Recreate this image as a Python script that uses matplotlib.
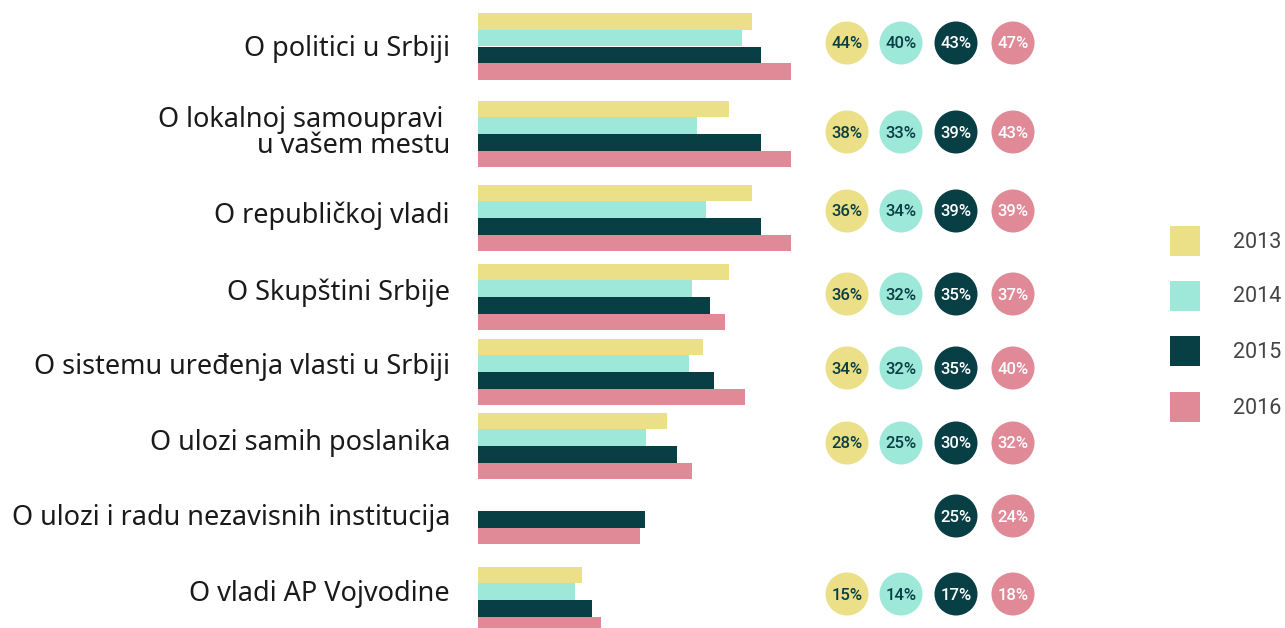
import matplotlib.pyplot as plt
from matplotlib.patches import Circle, Rectangle
import numpy as np

## Podaci
categories = ['O politici u Srbiji',
              'O lokalnoj samoupravi \nu vašem mestu',
              'O republičkoj vladi',
              'O Skupštini Srbije',
              'O sistemu uređenja vlasti u Srbiji',
              'O ulozi samih poslanika',
              'O ulozi i radu nezavisnih institucija',
              'O vladi AP Vojvodine']
years = ['2013', '2014', '2015', '2016']

# duzine traka (procitane sa slike)
bars_2013 = [41.1, 37.7, 41.1, 37.7, 33.8, 28.4, np.nan, 15.6]
bars_2014 = [39.6, 32.9, 34.2, 32.1, 31.7, 25.2, np.nan, 14.6]
bars_2015 = [42.5, 42.5, 42.5, 34.8, 35.4, 29.9, 25.1, 17.1]
bars_2016 = [47.0, 47.0, 47.0, 37.1, 40.1, 32.1, 24.3, 18.5]

# procenti u krugovima
pct_2013 = [44, 38, 36, 36, 34, 28, None, 15]
pct_2014 = [40, 33, 34, 32, 32, 25, None, 14]
pct_2015 = [43, 39, 39, 35, 35, 30, 25, 17]
pct_2016 = [47, 43, 39, 37, 40, 32, 24, 18]

## Izgled
colors = ['#EBDF87', '#9EE8DA', '#073F45', '#E08997']
txt_colors = ['#073F45', '#073F45', 'white', 'white']
W, H = 1285, 628
group_y = [46.5, 134, 218, 297, 372, 446, 511, 600]
circ_y = [43, 132, 211, 294, 368, 443, 516, 594]
label_y = [49, 133, 216, 293, 367, 443, 518, 594]
circ_x = [847, 901, 956, 1013]
bar_h = 16.6
px_per_pct = 313 / 47.0
bar_left = 478

fig = plt.figure(figsize=(W / 100, H / 100), dpi=100)

# trake
axb = fig.add_axes([bar_left / W, 0, 1 - bar_left / W, 1])
axb.set_xlim(0, (W - bar_left) / px_per_pct)
axb.set_ylim(H, 0)
axb.axis('off')
series = [bars_2013, bars_2014, bars_2015, bars_2016]
for i, vals in enumerate(series):
    y = np.array(group_y) + (i - 1.5) * bar_h
    axb.barh(y, vals, height=bar_h, color=colors[i], linewidth=0)

# krugovi, natpisi, legenda
ax = fig.add_axes([0, 0, 1, 1])
ax.set_xlim(0, W)
ax.set_ylim(H, 0)
ax.axis('off')
ax.patch.set_alpha(0)

pcts = [pct_2013, pct_2014, pct_2015, pct_2016]
for i, vals in enumerate(pcts):
    for j, v in enumerate(vals):
        if v is None:
            continue
        ax.add_patch(Circle((circ_x[i], circ_y[j]), 21.5, color=colors[i], lw=0))
        ax.text(circ_x[i], circ_y[j] + 1, f'{v}%', ha='center', va='center',
                fontsize=12, fontfamily='Roboto', fontweight='medium',
                color=txt_colors[i])

for j, cat in enumerate(categories):
    ax.text(450, label_y[j], cat, ha='right', va='center', fontsize=19.5,
            fontfamily='Noto Sans', fontweight='light', color='#1a1a1a',
            linespacing=0.92)

leg_y = [241, 296, 351, 407]
for i, yr in enumerate(years):
    ax.add_patch(Rectangle((1170, leg_y[i] - 15), 30, 30, color=colors[i], lw=0))
    ax.text(1233, leg_y[i] + 1, yr, ha='left', va='center', fontsize=15.5,
            fontfamily='Roboto', color='#444444')

fig.savefig('out.png', dpi=100)
